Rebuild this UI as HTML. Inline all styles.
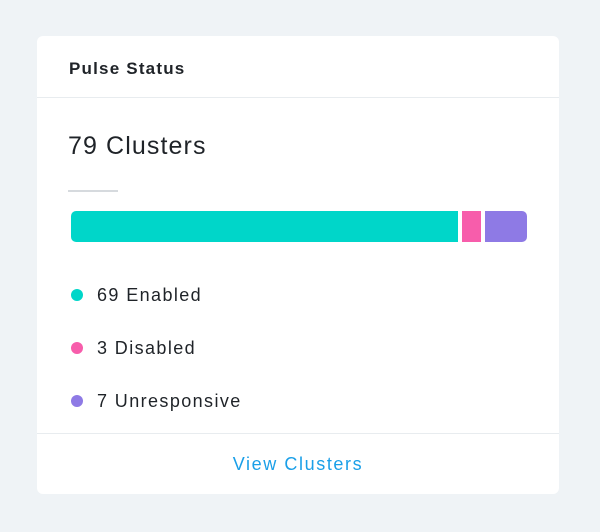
<!DOCTYPE html>
<html><head><style>
body{margin:0;width:600px;height:532px;background:#eff3f6;font-family:"Liberation Sans",sans-serif;position:relative;overflow:hidden}
.card{position:absolute;left:37px;top:36px;width:522px;height:458px;background:#fff;border-radius:6px}
.t{position:absolute;white-space:nowrap;color:#1f2328}
.dot{position:absolute;width:12px;height:12px;border-radius:50%}
</style></head><body>
<div class="card"></div>
<div class="t" style="left:69px;top:59px;font-size:17px;font-weight:bold;letter-spacing:1.2px">Pulse Status</div>
<div style="position:absolute;left:37px;top:97px;width:522px;height:1px;background:#e8ecef"></div>
<div class="t" style="left:68px;top:132px;font-size:25px;letter-spacing:1.1px">79 Clusters</div>
<div style="position:absolute;left:68px;top:190px;width:50px;height:2px;background:#d6dade"></div>
<div style="position:absolute;left:71px;top:211px;width:387px;height:31px;background:#00d6c9;border-radius:5px 0 0 5px"></div>
<div style="position:absolute;left:462px;top:211px;width:19px;height:31px;background:#f75dab"></div>
<div style="position:absolute;left:485px;top:211px;width:42px;height:31px;background:#8e7ae5;border-radius:0 5px 5px 0"></div>
<div class="dot" style="left:71px;top:289px;background:#00d6c9"></div>
<div class="t" style="left:97px;top:285px;font-size:18px;letter-spacing:1.4px">69 Enabled</div>
<div class="dot" style="left:71px;top:342px;background:#f75dab"></div>
<div class="t" style="left:97px;top:338px;font-size:18px;letter-spacing:1.4px">3 Disabled</div>
<div class="dot" style="left:71px;top:395px;background:#8e7ae5"></div>
<div class="t" style="left:97px;top:391px;font-size:18px;letter-spacing:1.4px">7 Unresponsive</div>
<div style="position:absolute;left:37px;top:433px;width:522px;height:1px;background:#e8ecef"></div>
<div class="t" style="left:37px;width:522px;text-align:center;top:454px;font-size:18px;color:#1a9fe8;letter-spacing:1.6px">View Clusters</div>
</body></html>
